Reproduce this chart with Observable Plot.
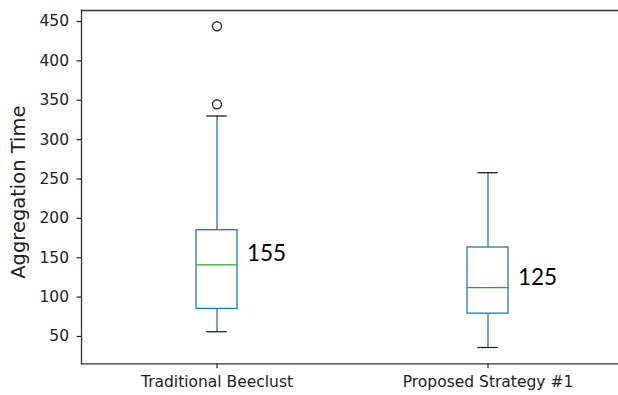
<!DOCTYPE html>
<html><head><meta charset="utf-8">
<script src="https://cdn.jsdelivr.net/npm/d3@7"></script>
<script src="https://cdn.jsdelivr.net/npm/@observablehq/plot@0.6"></script>
<style>body{margin:0;background:#fff;overflow:hidden} #chart svg{overflow:hidden}</style>
</head><body><div id="chart"></div>
<script>
const categories = ["Traditional Beeclust", "Proposed Strategy #1"];
const whiskerLow = [56, 36];
const q1 = [85, 79];
const median = [141, 112];
const q3 = [185, 163];
const whiskerHigh = [330, 258];
const outlierCategory = ["Traditional Beeclust", "Traditional Beeclust"];
const outlierValues = [345, 444];
const annotations = [155, 125];
const yTicks = [50, 100, 150, 200, 250, 300, 350, 400, 450];
const yLabel = "Aggregation Time";

const blue = "#1f77b4", green = "#2ca02c", dark = "#222";
const boxes = categories.map((c, i) => ({category: c, low: whiskerLow[i], q1: q1[i], median: median[i], q3: q3[i], high: whiskerHigh[i], note: annotations[i]}));
const outliers = outlierValues.map((v, i) => ({category: outlierCategory[i], value: v}));

const chart = Plot.plot({
  width: 618, height: 395,
  marginLeft: 81, marginRight: -5, marginTop: 10, marginBottom: 31.7,
  style: {fontFamily: "DejaVu Sans", fontSize: "15.5px", color: dark, background: "#fff"},
  x: {type: "band", domain: categories, paddingInner: 0.849, paddingOuter: 0.4245},
  y: {domain: [15.3, 464]},
  marks: [
    Plot.frame({anchor: "top", stroke: "#333", strokeWidth: 1.3}),
    Plot.frame({anchor: "left", stroke: "#333", strokeWidth: 1.3}),
    Plot.frame({anchor: "bottom", stroke: "#333", strokeWidth: 1.3}),
    Plot.axisY({ticks: yTicks, tickSize: 4.5, tickPadding: 8, label: null, strokeWidth: 1.2}),
    Plot.axisX({tickSize: 5, tickPadding: 7, label: null, strokeWidth: 1.2}),
    Plot.ruleX(boxes, {x: "category", y1: "high", y2: "q3", stroke: blue, strokeWidth: 1.3}),
    Plot.ruleX(boxes, {x: "category", y1: "q1", y2: "low", stroke: blue, strokeWidth: 1.3}),
    Plot.barY(boxes, {x: "category", y1: "q1", y2: "q3", fill: "none", stroke: blue, strokeWidth: 1.3}),
    Plot.tickY(boxes, {x: "category", y: "median", stroke: green, strokeWidth: 1.3}),
    Plot.tickY(boxes, {x: "category", y: "low", stroke: dark, strokeWidth: 1.3, inset: 10.25}),
    Plot.tickY(boxes, {x: "category", y: "high", stroke: dark, strokeWidth: 1.3, inset: 10.25}),
    Plot.dot(outliers, {x: "category", y: "value", r: 4.5, stroke: "#333", strokeWidth: 1.4, fill: "none"}),
    Plot.text(boxes, {x: "category", y: "note", text: d => String(d.note), dx: 30, textAnchor: "start", fontFamily: "Lato", fontSize: 22.5, fill: "#000"}),
    Plot.text([yLabel], {frameAnchor: "left", text: d => d, rotate: -90, dx: -63, dy: 5, fontSize: 19.5, textAnchor: "middle", lineAnchor: "middle", fill: dark})
  ]
});
document.getElementById("chart").appendChild(chart);
</script>
</body></html>
